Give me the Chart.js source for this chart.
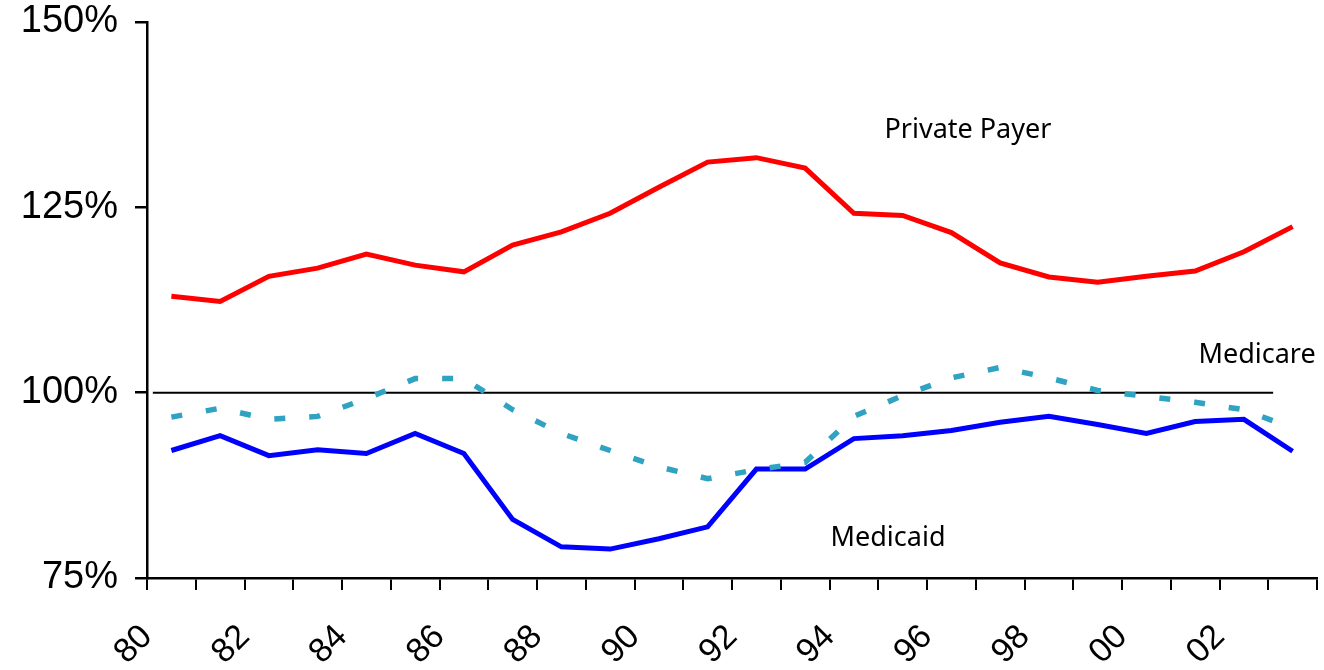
<!DOCTYPE html>
<html>
<head>
<meta charset="utf-8">
<script src="https://cdn.jsdelivr.net/npm/chart.js@4.4.1/dist/chart.umd.min.js"></script>
<style>
  body { margin: 0; background: #fff; }
  canvas { display: block; }
</style>
</head>
<body>
<canvas id="chart1" width="1324" height="670"></canvas>
<script>
//years shown on the chart
const years = [1980, 1981, 1982, 1983, 1984, 1985, 1986, 1987, 1988, 1989, 1990, 1991,
               1992, 1993, 1994, 1995, 1996, 1997, 1998, 1999, 2000, 2001, 2002, 2003]

//payment to cost ratio, percent
const privatePayer = [113.0, 112.3, 115.7, 116.8, 118.7, 117.2, 116.3, 119.9, 121.7, 124.2, 127.7, 131.1,
                      131.7, 130.3, 124.2, 123.9, 121.6, 117.5, 115.6, 114.9, 115.7, 116.4, 119.0, 122.4]
const medicare = [96.7, 97.9, 96.4, 96.8, 99.2, 101.9, 101.9, 97.7, 94.5, 92.2, 90.0, 88.4,
                  89.6, 90.6, 96.8, 99.6, 102.0, 103.4, 102.0, 100.3, 99.5, 98.7, 97.7, 95.2]
const medicaid = [92.2, 94.2, 91.5, 92.3, 91.8, 94.5, 91.8, 82.9, 79.2, 78.9, 80.3, 81.9,
                  89.7, 89.7, 93.8, 94.2, 94.9, 96.0, 96.8, 95.7, 94.5, 96.1, 96.4, 92.1]

//axis labels
const tickLabels = ['80', '82', '84', '86', '88', '90', '92', '94', '96', '98', '00', '02']
const yTicks = [75, 100, 125, 150]

//series names written on the plot
const seriesNames = ['Private Payer', 'Medicare', 'Medicaid']

//points sit in the middle of each year slot
toPoints = function(arr) {
    return arr.map((v, i) => ({x: years[i] + 0.5, y: v}))
}

//break-even line and text labels
const notes = {
    id: 'notes',
    beforeDatasetsDraw(chart) {
        const ctx = chart.ctx
        const x = chart.scales.x
        const y = chart.scales.y
        ctx.save()
        ctx.strokeStyle = '#000'
        ctx.lineWidth = 2
        ctx.beginPath()
        ctx.moveTo(x.getPixelForValue(1980.12), y.getPixelForValue(100))
        ctx.lineTo(x.getPixelForValue(2003.1), y.getPixelForValue(100))
        ctx.stroke()
        ctx.restore()
    },
    afterDatasetsDraw(chart) {
        const ctx = chart.ctx
        const x = chart.scales.x
        const y = chart.scales.y
        const spots = [[1996.84, 135.4], [2002.77, 105.1], [1995.2, 80.3]]
        ctx.save()
        ctx.fillStyle = '#000'
        ctx.font = '27px "Noto Sans"'
        ctx.textAlign = 'center'
        ctx.textBaseline = 'middle'
        seriesNames.forEach((name, i) => {
            ctx.fillText(name, x.getPixelForValue(spots[i][0]), y.getPixelForValue(spots[i][1]))
        })
        ctx.restore()
    }
}

//setup
const data = {
    datasets: [{
        label: 'Medicare',
        data: toPoints(medicare),
        borderColor: '#2fa3c1',
        borderWidth: 5.5,
        borderDash: [11, 24],
        borderCapStyle: 'butt',
        pointRadius: 0,
        fill: false
    }, {
        label: 'Medicaid',
        data: toPoints(medicaid),
        borderColor: '#0000ff',
        borderWidth: 5,
        pointRadius: 0,
        fill: false
    }, {
        label: 'Private Payer',
        data: toPoints(privatePayer),
        borderColor: '#ff0000',
        borderWidth: 5,
        pointRadius: 0,
        fill: false
    }]
}

//config
const config = {
    type: 'line',
    data: data,
    plugins: [notes],
    options: {
        responsive: false,
        animation: false,
        layout: {
            padding: {top: 22, right: 7, left: 0, bottom: 0}
        },
        plugins: {
            legend: {display: false},
            tooltip: {enabled: false}
        },
        scales: {
            x: {
                type: 'linear',
                min: 1980,
                max: 2004,
                afterFit: function(scale) {
                    scale.height = 92
                    scale.paddingLeft = 0
                    scale.paddingRight = 0
                },
                border: {color: '#000', width: 2.5},
                grid: {
                    drawOnChartArea: false,
                    color: '#000',
                    lineWidth: 2,
                    tickLength: 12
                },
                ticks: {
                    stepSize: 1,
                    autoSkip: false,
                    minRotation: 45,
                    maxRotation: 45,
                    padding: 27,
                    labelOffset: 0,
                    color: '#000',
                    font: {family: 'Liberation Sans', size: 34},
                    callback: function(value) {
                        const k = value - 1980
                        return (k % 2 == 0 && k / 2 < tickLabels.length) ? tickLabels[k / 2] : ''
                    }
                }
            },
            y: {
                min: 75,
                max: 150,
                afterFit: function(scale) {
                    scale.width = 147
                    scale.paddingTop = 0
                    scale.paddingBottom = 0
                },
                afterBuildTicks: function(scale) {
                    scale.ticks = yTicks.map(v => ({value: v}))
                },
                border: {color: '#000', width: 2.5},
                grid: {
                    drawOnChartArea: false,
                    color: '#000',
                    lineWidth: 2.5,
                    tickLength: 12
                },
                ticks: {
                    padding: 17,
                    color: '#000',
                    font: {family: 'Liberation Sans', size: 38},
                    callback: function(value) { return value + '%' }
                }
            }
        }
    }
}

//render
const Chart1 = new Chart(
    document.getElementById('chart1'),
    config
)
</script>
</body>
</html>
